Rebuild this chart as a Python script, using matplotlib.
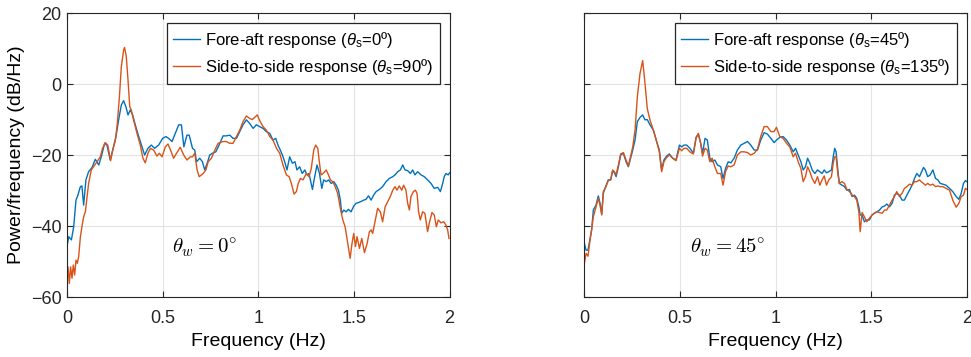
import matplotlib.pyplot as plt
from matplotlib.font_manager import FontProperties

# Panel 1 (theta_w = 0 deg): fore-aft (theta_s = 0) and side-to-side (theta_s = 90)
f1_fa = [0.000, 0.009, 0.023, 0.035, 0.047, 0.057, 0.070, 0.078, 0.087, 0.099, 0.113, 0.131, 0.148, 0.166,
         0.179, 0.197, 0.209, 0.226, 0.239, 0.256, 0.270, 0.284, 0.296, 0.308, 0.319, 0.331, 0.343, 0.357,
         0.375, 0.392, 0.406, 0.423, 0.441, 0.458, 0.479, 0.500, 0.517, 0.531, 0.549, 0.566, 0.584, 0.598,
         0.611, 0.627, 0.639, 0.656, 0.668, 0.677, 0.694, 0.708, 0.720, 0.733, 0.746, 0.760, 0.778, 0.795,
         0.816, 0.833, 0.851, 0.868, 0.886, 0.903, 0.920, 0.938, 0.955, 0.973, 0.990, 1.007, 1.025, 1.042,
         1.060, 1.077, 1.091, 1.103, 1.115, 1.126, 1.138, 1.150, 1.164, 1.178, 1.192, 1.202, 1.216, 1.230,
         1.243, 1.255, 1.265, 1.283, 1.295, 1.307, 1.320, 1.332, 1.342, 1.355, 1.367, 1.381, 1.395, 1.407,
         1.419, 1.429, 1.436, 1.447, 1.459, 1.471, 1.485, 1.499, 1.511, 1.523, 1.537, 1.551, 1.563, 1.576,
         1.590, 1.603, 1.616, 1.633, 1.650, 1.668, 1.685, 1.703, 1.715, 1.729, 1.743, 1.755, 1.767, 1.781,
         1.795, 1.807, 1.819, 1.833, 1.851, 1.868, 1.885, 1.903, 1.920, 1.938, 1.952, 1.964, 1.972, 1.981,
         1.993, 2.000]
p1_fa = [-45.8, -43.0, -43.9, -40.2, -32.7, -31.3, -28.9, -28.7, -34.1, -27.0, -24.7, -23.5, -21.2, -22.8,
         -20.5, -16.7, -17.2, -21.4, -18.6, -14.8, -10.1, -5.9, -4.7, -6.4, -8.7, -7.3, -8.7, -11.5,
         -14.8, -17.7, -20.0, -18.1, -17.2, -18.1, -17.2, -15.3, -14.8, -15.3, -16.2, -13.9, -11.5, -11.5,
         -17.7, -14.4, -14.4, -18.1, -18.6, -21.9, -20.9, -21.9, -24.2, -22.3, -20.0, -19.5, -19.1, -17.2,
         -14.6, -14.6, -14.4, -15.3, -15.3, -13.4, -11.5, -10.1, -11.1, -12.5, -11.5, -12.0, -12.5, -13.4,
         -13.9, -15.8, -15.3, -17.2, -18.6, -20.0, -21.9, -24.2, -20.5, -22.3, -21.9, -24.2, -23.3, -25.2,
         -24.2, -25.6, -25.2, -29.7, -26.1, -22.8, -25.2, -29.4, -27.0, -27.5, -27.0, -28.0, -27.5, -28.5,
         -29.9, -32.7, -36.4, -35.5, -36.0, -35.3, -36.0, -34.4, -33.6, -33.4, -33.1, -32.7, -32.5, -31.5,
         -32.7, -31.3, -30.3, -29.7, -28.9, -27.5, -26.6, -26.1, -25.6, -24.7, -24.2, -22.8, -24.2, -24.4,
         -25.2, -24.2, -25.6, -24.7, -25.6, -26.1, -27.0, -28.0, -29.4, -29.1, -30.3, -28.0, -26.1, -25.2,
         -25.6, -25.0]

f1_ss = [0.000, 0.005, 0.012, 0.019, 0.026, 0.033, 0.040, 0.047, 0.054, 0.061, 0.070, 0.078, 0.087, 0.096,
         0.105, 0.113, 0.127, 0.139, 0.157, 0.174, 0.186, 0.200, 0.213, 0.228, 0.239, 0.253, 0.263, 0.274,
         0.284, 0.296, 0.301, 0.310, 0.319, 0.328, 0.336, 0.348, 0.366, 0.383, 0.397, 0.409, 0.423, 0.436,
         0.453, 0.470, 0.483, 0.497, 0.514, 0.528, 0.545, 0.557, 0.575, 0.592, 0.610, 0.627, 0.645, 0.656,
         0.668, 0.680, 0.691, 0.712, 0.726, 0.738, 0.755, 0.773, 0.790, 0.816, 0.833, 0.851, 0.868, 0.886,
         0.903, 0.920, 0.938, 0.955, 0.969, 0.981, 0.995, 1.007, 1.025, 1.042, 1.060, 1.077, 1.095, 1.112,
         1.129, 1.147, 1.161, 1.173, 1.187, 1.199, 1.209, 1.220, 1.234, 1.251, 1.265, 1.277, 1.290, 1.300,
         1.311, 1.320, 1.328, 1.339, 1.355, 1.367, 1.377, 1.389, 1.402, 1.415, 1.429, 1.442, 1.454, 1.468,
         1.480, 1.490, 1.499, 1.508, 1.516, 1.529, 1.541, 1.555, 1.569, 1.581, 1.590, 1.598, 1.610, 1.624,
         1.638, 1.650, 1.663, 1.677, 1.690, 1.703, 1.715, 1.725, 1.737, 1.750, 1.760, 1.772, 1.781, 1.790,
         1.798, 1.811, 1.821, 1.830, 1.838, 1.847, 1.859, 1.871, 1.885, 1.894, 1.908, 1.920, 1.931, 1.941,
         1.955, 1.969, 1.981, 1.990, 1.997]
p1_ss = [-54.3, -51.5, -56.2, -51.5, -54.7, -51.0, -53.8, -49.6, -50.5, -48.6, -43.0, -40.2, -37.4, -36.0,
         -31.7, -28.0, -24.2, -23.3, -21.9, -20.5, -18.1, -16.5, -17.2, -21.6, -18.6, -15.8, -11.1, -3.6,
         4.9, 9.6, 10.3, 7.7, 1.1, -6.4, -7.3, -10.1, -13.9, -17.2, -20.9, -22.2, -19.5, -18.1,
         -18.6, -20.3, -19.5, -20.5, -17.7, -16.9, -19.1, -20.9, -19.3, -17.8, -20.0, -21.4, -20.5, -20.5,
         -19.5, -24.2, -26.1, -25.2, -24.2, -21.9, -20.9, -18.6, -16.7, -16.2, -16.2, -16.7, -16.7, -14.8,
         -13.0, -10.6, -9.0, -9.7, -10.0, -9.4, -8.7, -10.3, -12.0, -13.0, -14.8, -15.8, -18.1, -19.5,
         -22.8, -25.6, -26.1, -28.0, -31.0, -30.3, -28.0, -26.6, -27.0, -25.2, -26.1, -23.8, -18.6, -17.2,
         -18.1, -22.3, -25.6, -25.2, -24.2, -25.6, -27.0, -27.5, -28.9, -30.8, -35.0, -38.3, -40.2, -44.9,
         -49.1, -44.9, -42.1, -45.8, -43.0, -46.3, -43.5, -47.5, -44.9, -41.6, -41.1, -42.1, -38.8, -35.0,
         -36.0, -38.8, -34.6, -33.1, -31.7, -29.9, -28.9, -29.9, -28.7, -29.9, -28.5, -29.9, -33.6, -35.5,
         -31.7, -30.3, -29.9, -30.8, -36.0, -38.3, -36.0, -36.4, -41.6, -39.2, -36.2, -36.9, -40.2, -38.3,
         -39.1, -38.8, -39.7, -41.1, -43.5]

# Panel 2 (theta_w = 45 deg): fore-aft (theta_s = 45) and side-to-side (theta_s = 135)
f2 = [0.000, 0.009, 0.019, 0.030, 0.038, 0.047, 0.061, 0.073, 0.082, 0.091, 0.099, 0.113, 0.125, 0.138,
      0.148, 0.157, 0.166, 0.178, 0.190, 0.204, 0.218, 0.230, 0.242, 0.253, 0.265, 0.277, 0.291, 0.305,
      0.317, 0.329, 0.343, 0.361, 0.378, 0.392, 0.404, 0.416, 0.430, 0.444, 0.462, 0.479, 0.497, 0.509,
      0.521, 0.535, 0.552, 0.570, 0.584, 0.596, 0.608, 0.618, 0.631, 0.643, 0.656, 0.668, 0.682, 0.696,
      0.713, 0.725, 0.738, 0.752, 0.766, 0.783, 0.800, 0.818, 0.835, 0.853, 0.870, 0.888, 0.905, 0.922,
      0.940, 0.957, 0.975, 0.992, 1.004, 1.022, 1.039, 1.057, 1.074, 1.092, 1.104, 1.118, 1.132, 1.144,
      1.156, 1.167, 1.179, 1.191, 1.205, 1.219, 1.231, 1.243, 1.254, 1.266, 1.278, 1.292, 1.301, 1.309,
      1.316, 1.325, 1.333, 1.347, 1.360, 1.372, 1.386, 1.400, 1.412, 1.424, 1.435, 1.442, 1.452, 1.464,
      1.476, 1.490, 1.504, 1.516, 1.529, 1.543, 1.557, 1.569, 1.581, 1.595, 1.609, 1.621, 1.633, 1.647,
      1.661, 1.673, 1.686, 1.700, 1.713, 1.726, 1.738, 1.752, 1.761, 1.773, 1.783, 1.795, 1.808, 1.822,
      1.836, 1.848, 1.860, 1.874, 1.891, 1.909, 1.926, 1.944, 1.958, 1.970, 1.982, 1.992, 2.000]
p2_fa = [-44.9, -46.8, -46.8, -43.5, -41.1, -35.5, -34.1, -31.5, -33.6, -36.6, -30.8, -28.7, -27.0, -27.0,
         -24.4, -25.0, -26.1, -23.3, -20.0, -19.5, -21.9, -23.3, -20.9, -18.6, -15.8, -10.6, -9.4, -8.7,
         -10.1, -10.0, -11.5, -13.0, -16.2, -18.6, -24.2, -21.4, -20.3, -19.7, -20.9, -21.4, -17.2, -17.7,
         -17.2, -17.2, -18.1, -19.5, -15.0, -14.1, -16.7, -19.5, -15.3, -15.8, -20.9, -21.9, -21.4, -22.8,
         -23.3, -26.6, -23.8, -21.9, -22.2, -20.9, -18.6, -17.2, -16.7, -16.2, -17.2, -18.6, -18.6, -15.8,
         -13.7, -14.1, -15.3, -16.5, -15.8, -15.0, -14.8, -15.8, -17.2, -19.1, -18.1, -20.0, -21.9, -24.2,
         -23.3, -20.9, -22.3, -24.2, -25.2, -24.2, -24.7, -25.2, -24.2, -25.0, -24.7, -24.2, -20.5, -18.1,
         -19.1, -24.2, -28.0, -28.5, -28.9, -29.9, -29.7, -31.7, -31.3, -32.2, -34.6, -36.9, -36.9, -38.8,
         -38.3, -38.3, -36.9, -36.4, -36.0, -35.5, -34.6, -34.4, -33.8, -34.6, -33.6, -31.3, -30.8, -31.3,
         -32.7, -32.7, -31.3, -29.9, -28.5, -26.6, -25.2, -26.1, -25.0, -23.5, -24.2, -26.1, -25.6, -24.2,
         -26.6, -27.0, -28.0, -28.2, -28.5, -29.4, -30.3, -31.7, -32.5, -30.8, -28.0, -27.2, -27.5]
p2_ss = [-50.5, -47.7, -48.5, -43.9, -41.1, -37.4, -34.6, -32.2, -34.1, -36.9, -30.3, -28.9, -27.2, -26.9,
         -24.2, -24.7, -25.6, -22.8, -19.7, -19.3, -21.4, -23.1, -20.3, -17.7, -13.0, -3.6, 3.0, 6.6,
         0.2, -6.9, -10.1, -13.0, -16.2, -19.1, -24.7, -21.9, -20.7, -20.0, -20.9, -21.6, -18.1, -18.8,
         -18.1, -18.1, -19.1, -19.7, -15.3, -13.9, -16.7, -20.3, -18.1, -18.6, -21.9, -20.9, -23.3, -25.2,
         -25.2, -28.5, -24.7, -23.1, -23.3, -22.8, -20.0, -19.1, -19.1, -19.3, -20.0, -19.5, -18.4, -14.8,
         -12.0, -12.0, -13.4, -13.4, -12.2, -14.8, -15.3, -16.7, -17.7, -20.5, -19.5, -21.9, -23.8, -27.5,
         -26.1, -23.3, -24.7, -26.6, -28.0, -26.1, -28.5, -27.0, -25.9, -28.5, -27.0, -26.1, -22.3, -20.5,
         -20.5, -25.2, -28.0, -27.5, -28.0, -29.7, -30.3, -31.3, -31.7, -32.7, -36.0, -41.6, -36.2, -37.4,
         -38.8, -37.8, -36.9, -36.4, -36.0, -36.2, -36.4, -35.5, -35.5, -34.1, -32.7, -31.7, -30.3, -31.7,
         -30.8, -29.4, -28.9, -28.2, -28.5, -27.5, -27.5, -27.0, -27.5, -28.0, -28.5, -28.0, -28.5, -28.2,
         -28.9, -28.7, -28.9, -28.9, -29.4, -29.9, -32.7, -34.7, -33.6, -31.7, -31.3, -29.4, -29.7]

panels = [
    (f1_fa, p1_fa, f1_ss, p1_ss, '0', '90', '0'),
    (f2, p2_fa, f2, p2_ss, '45', '135', '45'),
]

blue = '#0072BD'
orange = '#D95319'

plt.rcParams['font.family'] = ['Liberation Sans', 'DejaVu Sans']
plt.rcParams['mathtext.fontset'] = 'custom'
plt.rcParams['mathtext.rm'] = 'Liberation Sans'
plt.rcParams['mathtext.it'] = 'Liberation Sans:italic'

fig = plt.figure(figsize=(9.71, 3.57), dpi=100)
lefts = [0.069, 0.6018]

for i, (fa_f, fa_p, ss_f, ss_p, th_fa, th_ss, th_w) in enumerate(panels):
    ax = fig.add_axes([lefts[i], 0.168, 0.394, 0.7955])
    ax.plot(fa_f, fa_p, color=blue, lw=1.0,
            label=r'Fore-aft response ($\theta_{\mathrm{s}}$=' + th_fa + 'º)')
    ax.plot(ss_f, ss_p, color=orange, lw=1.0,
            label=r'Side-to-side response ($\theta_{\mathrm{s}}$=' + th_ss + 'º)')
    ax.set_xlim(0, 2)
    ax.set_ylim(-60, 20)
    ax.set_xticks([0, 0.5, 1, 1.5, 2])
    ax.set_xticklabels(['0', '0.5', '1', '1.5', '2'])
    ax.set_yticks([-60, -40, -20, 0, 20])
    ax.grid(True, color='#e3e3e3', lw=0.8)
    ax.tick_params(direction='in', top=True, right=True, length=4, width=0.8,
                   labelsize=13, colors='#262626')
    ax.tick_params(axis='x', pad=9)
    ax.tick_params(axis='y', pad=4)
    for sp in ax.spines.values():
        sp.set_color('#262626')
        sp.set_linewidth(0.8)
    if i == 0:
        ax.set_ylabel('Power/frequency (dB/Hz)', fontsize=14, labelpad=4)
    else:
        ax.set_yticklabels([])
    ax.set_xlabel('Frequency (Hz)', fontsize=14, labelpad=5)
    leg = ax.legend(loc='upper right', frameon=True, fancybox=False,
                    edgecolor='#262626', framealpha=1, handlelength=1.6,
                    handletextpad=0.3, borderaxespad=0.6, labelspacing=0.45,
                    borderpad=0.4,
                    prop=FontProperties(family='Liberation Sans', size=12, math_fontfamily='custom'))
    leg.get_frame().set_linewidth(0.9)
    ax.text(0.55, -46, r'$\theta_w = ' + th_w + r'^{\circ}$', fontsize=15,
            math_fontfamily='cm', ha='left', va='center')

fig.savefig('out.png', dpi=100)
